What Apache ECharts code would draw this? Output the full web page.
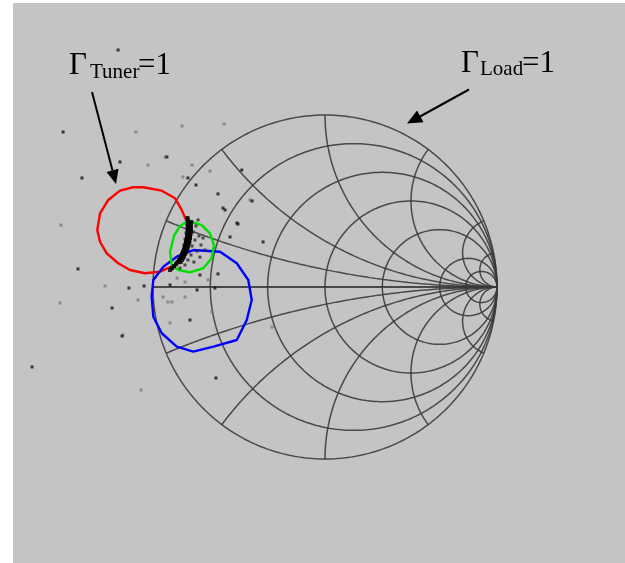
<!DOCTYPE html>
<html>
<head>
<meta charset="utf-8">
<script src="https://cdn.jsdelivr.net/npm/echarts/dist/echarts.min.js"></script>
<style>
  html, body { margin: 0; padding: 0; background: #ffffff; width: 625px; height: 563px; overflow: hidden; }
  #chart { position: absolute; left: 0; top: 0; width: 625px; height: 563px; }
</style>
</head>
<body>
<div id="chart"></div>
<script>
// Smith chart grid: constant-resistance circles and constant-reactance arcs
const resistanceValues = [0.2, 0.5, 1, 2, 5, 10];
const reactanceValues = [0.2, 0.5, 1, 2, 5, 10];

// |Gamma_tuner| = 1 boundary mapped into the load reflection plane (red)
const tunerBoundary = [
  [-1.056, 0.580], [-0.949, 0.560], [-0.872, 0.516], [-0.833, 0.448], [-0.804, 0.380],
  [-0.801, 0.292], [-0.824, 0.196], [-0.872, 0.128], [-0.959, 0.089], [-1.047, 0.080],
  [-1.134, 0.099], [-1.202, 0.138], [-1.269, 0.196], [-1.308, 0.263], [-1.324, 0.331],
  [-1.308, 0.428], [-1.260, 0.506], [-1.192, 0.560], [-1.115, 0.580], [-1.056, 0.580]
];

// Second boundary (blue)
const blueBoundary = [
  [-0.766, 0.215], [-0.610, 0.205], [-0.513, 0.138], [-0.446, 0.041], [-0.426, -0.076],
  [-0.455, -0.192], [-0.513, -0.308], [-0.649, -0.347], [-0.766, -0.376], [-0.862, -0.347],
  [-0.949, -0.269], [-0.998, -0.173], [-1.008, -0.056], [-0.998, 0.041], [-0.940, 0.118],
  [-0.862, 0.176], [-0.766, 0.215]
];

// Third boundary (green)
const greenBoundary = [
  [-0.795, 0.384], [-0.717, 0.360], [-0.669, 0.312], [-0.645, 0.244], [-0.659, 0.167],
  [-0.708, 0.109], [-0.785, 0.085], [-0.853, 0.099], [-0.891, 0.128], [-0.901, 0.203],
  [-0.878, 0.297], [-0.843, 0.355], [-0.795, 0.384]
];

// Measured reflection points packed along the red boundary
const edgePoints = [
  [-0.799, 0.401], [-0.797, 0.390], [-0.797, 0.378], [-0.797, 0.366], [-0.797, 0.355],
  [-0.797, 0.343], [-0.797, 0.331], [-0.799, 0.320], [-0.799, 0.308], [-0.802, 0.297],
  [-0.802, 0.285], [-0.805, 0.273], [-0.808, 0.262], [-0.811, 0.250], [-0.814, 0.238],
  [-0.817, 0.227], [-0.820, 0.215], [-0.826, 0.203], [-0.831, 0.192], [-0.837, 0.180],
  [-0.843, 0.169], [-0.849, 0.157], [-0.858, 0.145], [-0.866, 0.134], [-0.878, 0.122],
  [-0.890, 0.110], [-0.901, 0.099],
  [-0.780, 0.378], [-0.780, 0.366], [-0.780, 0.355], [-0.780, 0.343], [-0.780, 0.331],
  [-0.782, 0.320], [-0.782, 0.308], [-0.785, 0.297], [-0.785, 0.285], [-0.788, 0.273],
  [-0.791, 0.262], [-0.794, 0.250], [-0.797, 0.238], [-0.800, 0.227], [-0.803, 0.215],
  [-0.809, 0.203], [-0.814, 0.192], [-0.820, 0.180], [-0.826, 0.169], [-0.832, 0.157],
  [-0.841, 0.145]
];

// Measured reflection points, dense cluster beside the edge
const clusterPoints = [
  [-0.802, 0.401], [-0.797, 0.384], [-0.802, 0.366], [-0.797, 0.349], [-0.802, 0.331],
  [-0.808, 0.314], [-0.802, 0.297], [-0.814, 0.279], [-0.808, 0.262], [-0.820, 0.244],
  [-0.814, 0.227], [-0.826, 0.209], [-0.831, 0.192], [-0.837, 0.174], [-0.849, 0.157],
  [-0.855, 0.140], [-0.866, 0.128], [-0.878, 0.116], [-0.890, 0.105], [-0.785, 0.343],
  [-0.779, 0.314], [-0.791, 0.285], [-0.785, 0.256], [-0.797, 0.227], [-0.808, 0.198],
  [-0.820, 0.169], [-0.837, 0.145], [-0.767, 0.320], [-0.756, 0.273], [-0.773, 0.238],
  [-0.744, 0.209], [-0.779, 0.186], [-0.797, 0.157], [-0.750, 0.355], [-0.733, 0.297],
  [-0.721, 0.244], [-0.762, 0.145], [-0.814, 0.128], [-0.843, 0.110], [-0.727, 0.174],
  [-0.698, 0.215], [-0.709, 0.285], [-0.738, 0.390], [-0.773, 0.378]
];

// Measured reflection points, scattered (dark)
const scatterDark = [
  [-1.203, 1.378], [-1.523, 0.901], [-0.919, 0.756], [-1.192, 0.727], [-1.413, 0.634],
  [-1.436, 0.105], [-1.140, -0.006], [-1.052, 0.006], [-1.238, -0.122], [-1.180, -0.285],
  [-1.703, -0.465], [-0.634, -0.529], [-0.785, -0.192], [-0.622, 0.076], [-0.552, 0.291],
  [-0.506, 0.366], [-0.424, 0.500], [-0.622, 0.541], [-0.750, 0.593], [-0.797, 0.634],
  [-0.484, 0.680], [-0.593, 0.459], [-0.640, -0.006], [-0.744, -0.017], [-0.901, 0.012],
  [-0.360, 0.262], [-0.581, 0.448], [-0.512, 0.372], [-0.727, 0.070]
];

// Measured reflection points, scattered (faint)
const scatterFaint = [
  [-1.099, 0.901], [-0.831, 0.936], [-1.029, 0.709], [-1.535, 0.360], [-1.279, 0.006],
  [-1.541, -0.093], [-1.070, -0.599], [-0.890, -0.087], [-0.669, 0.674], [-0.587, 0.948],
  [-0.930, 0.756], [-0.773, 0.709], [-0.826, 0.640], [-0.814, 0.029], [-0.942, -0.058],
  [-0.436, 0.506], [-0.657, -0.145], [-1.087, -0.076], [-0.913, -0.087], [-0.814, -0.058],
  [-1.174, -0.279], [-0.901, -0.209], [-0.308, -0.233], [-0.680, 0.041], [-0.860, 0.052]
];

// ---- layout: chart centre and unit radius in pixels ----
const W = 625, H = 563, CX = 325, CY = 287, R = 172;

// ---- grid construction ----
function gammaOf(r, x) {
  const den = (r + 1) * (r + 1) + x * x;
  return [(r * r - 1 + x * x) / den, (2 * x) / den];
}
function resistanceCircle(r) {
  const c = r / (1 + r), rad = 1 / (1 + r), pts = [];
  for (let i = 0; i <= 360; i++) {
    const a = (i / 360) * Math.PI * 2;
    pts.push([c + rad * Math.cos(a), rad * Math.sin(a)]);
  }
  return pts;
}
function reactanceArc(x) {
  const pts = [];
  for (let i = 0; i < 400; i++) {
    const s = i / 400;
    pts.push(gammaOf(s / (1 - s), x));
  }
  pts.push([1, 0]);
  return pts;
}

const gridStyle = { color: '#383838', width: 1.5, opacity: 0.88 };
const gridSeries = [];
function addGridCurve(pts, width) {
  gridSeries.push({
    type: 'line', data: pts, showSymbol: false, symbol: 'none', silent: true,
    clip: false, animation: false,
    lineStyle: Object.assign({}, gridStyle, width ? { width } : {}), z: 1
  });
}
addGridCurve(resistanceCircle(0));
addGridCurve([[-1, 0], [1, 0]], 1.8);
resistanceValues.forEach(r => addGridCurve(resistanceCircle(r)));
reactanceValues.forEach(x => { addGridCurve(reactanceArc(x)); addGridCurve(reactanceArc(-x)); });

function boundary(data, color) {
  return {
    type: 'line', data, showSymbol: false, symbol: 'none', silent: true, clip: false,
    animation: false, lineStyle: { color, width: 2.4 }, z: 3
  };
}
function dots(data, color, size) {
  return {
    type: 'scatter', data, symbol: 'rect', symbolSize: size, silent: true, clip: false,
    animation: false, itemStyle: { color }, z: 4
  };
}

const serif = '"Liberation Serif", "DejaVu Serif", serif';
const chart = echarts.init(document.getElementById('chart'), null, { renderer: 'canvas' });
chart.setOption({
  backgroundColor: '#ffffff',
  animation: false,
  grid: { left: 0, top: 0, right: 0, bottom: 0 },
  xAxis: { type: 'value', min: -CX / R, max: (W - CX) / R, show: false },
  yAxis: { type: 'value', min: -(H - CY) / R, max: CY / R, show: false },
  graphic: [
    { type: 'rect', shape: { x: 13, y: 3, width: 612, height: 560 }, style: { fill: '#c4c4c4' }, z: -10, silent: true },
    // Gamma_Tuner label and arrow
    { type: 'text', x: 69, y: 50, style: { text: 'Γ', font: '31px ' + serif, fill: '#000', verticalAlign: 'top' }, z: 100 },
    { type: 'text', x: 90, y: 62, style: { text: 'Tuner', font: '21px ' + serif, fill: '#000', verticalAlign: 'top' }, z: 100 },
    { type: 'text', x: 138, y: 50, style: { text: '=1', font: '31px ' + serif, fill: '#000', verticalAlign: 'top' }, z: 100 },
    { type: 'line', shape: { x1: 92, y1: 92, x2: 112.5, y2: 170.5 }, style: { stroke: '#000', lineWidth: 2 }, z: 100 },
    { type: 'polygon', shape: { points: [[116, 184], [106.5, 172], [118.5, 168.8]] }, style: { fill: '#000' }, z: 100 },
    // Gamma_Load label and arrow
    { type: 'text', x: 461, y: 48, style: { text: 'Γ', font: '31px ' + serif, fill: '#000', verticalAlign: 'top' }, z: 100 },
    { type: 'text', x: 480, y: 59, style: { text: 'Load', font: '21px ' + serif, fill: '#000', verticalAlign: 'top' }, z: 100 },
    { type: 'text', x: 522, y: 48, style: { text: '=1', font: '31px ' + serif, fill: '#000', verticalAlign: 'top' }, z: 100 },
    { type: 'line', shape: { x1: 469, y1: 89.5, x2: 420, y2: 116.5 }, style: { stroke: '#000', lineWidth: 2 }, z: 100 },
    { type: 'polygon', shape: { points: [[407, 123.5], [417, 110.5], [423.5, 122.3]] }, style: { fill: '#000' }, z: 100 }
  ],
  series: [
    ...gridSeries,
    boundary(tunerBoundary, '#ff0000'),
    boundary(blueBoundary, '#0000ff'),
    boundary(greenBoundary, '#00e000'),
    dots(scatterFaint, '#7a7a7a', 3),
    dots(scatterDark, '#111111', 3),
    dots(clusterPoints, '#2a2a2a', 3),
    dots(edgePoints, '#000000', 4)
  ]
});
</script>
</body>
</html>
